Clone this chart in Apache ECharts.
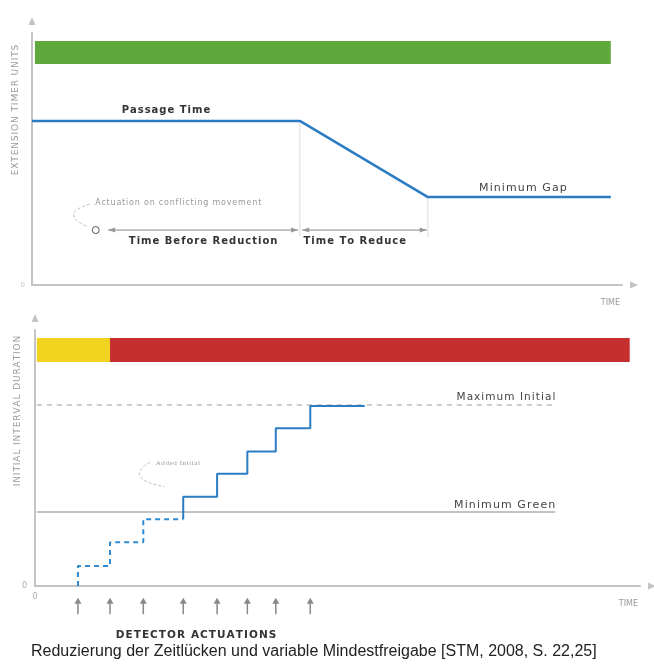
<!DOCTYPE html>
<html><head><meta charset="utf-8">
<script src="https://cdn.jsdelivr.net/npm/echarts@6/dist/echarts.min.js"></script>
<style>html,body{margin:0;padding:0;background:#fff}#c{width:654px;height:664px}</style>
</head><body><div id="c"></div>
<script>
// ---------- top chart: extension timer units ----------
const topTime = [0, 45.4, 67.1, 98.1];
const extensionUnits = [65.1, 65.1, 34.9, 34.9];
const greenBar = [0.5, 98.1, 87.7, 96.8];          // x0, x1, y0, y1
const conflictActuation = 10.8;
const reductionStart = 45.4;
const reductionEnd = 67.1;
const topLabels = ['Passage Time', 'Minimum Gap', 'Time Before Reduction', 'Time To Reduce', 'Actuation on conflicting movement'];

// ---------- bottom chart: initial interval duration ----------
const actuationTimes = [7.1, 12.4, 17.9, 24.5, 30.1, 35.1, 39.8, 45.5];
const initialLevels = [7.8, 17.1, 26.1, 34.9, 43.8, 52.5, 61.6, 70.3];
const stepEndTime = 54.5;
const dashedSteps = 3;
const maximumInitial = 70.7;
const minimumGreen = 28.9;
const thresholdSpan = [0.3, 86];
const yellowBar = [0.3, 12.4, 87.5, 96.9];
const redBar = [12.4, 98.3, 87.5, 96.9];
const bottomLabels = ['Maximum Initial', 'Minimum Green', 'Added Initial'];

const BLUE = '#2b7cc3', AXIS = '#c4c4c4', FONT = 'DejaVu Sans';

// build step polyline from actuations
const stepPts = [[actuationTimes[0], 0]];
for (let i = 0; i < actuationTimes.length; i++) {
  const nx = i + 1 < actuationTimes.length ? actuationTimes[i + 1] : stepEndTime;
  stepPts.push([actuationTimes[i], initialLevels[i]]);
  stepPts.push([nx, initialLevels[i]]);
}
const dashedPts = stepPts.slice(0, 1 + dashedSteps * 2);
const solidPts = stepPts.slice(dashedSteps * 2);

function head(tip, from, len, w) {
  const dx = tip[0] - from[0], dy = tip[1] - from[1];
  const d = Math.hypot(dx, dy) || 1, ux = dx / d, uy = dy / d;
  const bx = tip[0] - ux * len, by = tip[1] - uy * len;
  return [tip, [bx - uy * w, by + ux * w], [bx + uy * w, by - ux * w]];
}
const spaced = s => s.split('').join('\u200A');
function txt(p, s, o) {
  return { type: 'text', style: Object.assign({ text: spaced(s), x: p[0], y: p[1], fontFamily: FONT, fontSize: 10, fill: '#333', align: 'center', verticalAlign: 'middle' }, o || {}) };
}
function ln(a, b, o) {
  return { type: 'line', shape: { x1: a[0], y1: a[1], x2: b[0], y2: b[1] }, style: Object.assign({ stroke: '#888', lineWidth: 1 }, o || {}) };
}

function barSeries(xi, items) {
  return {
    type: 'custom', xAxisIndex: xi, yAxisIndex: xi, silent: true,
    data: items,
    renderItem: (p, api) => {
      const a = api.coord([api.value(0), api.value(3)]);
      const b = api.coord([api.value(1), api.value(2)]);
      return { type: 'rect', shape: { x: a[0], y: a[1], width: b[0] - a[0], height: b[1] - a[1] }, style: { fill: api.visual('color') } };
    }
  };
}

const axisLineStyle = () => ({ show: true, symbol: ['none', 'triangle'], symbolSize: [7, 8], symbolOffset: [0, 12], lineStyle: { color: AXIS, width: 2 } });

const option = {
  animation: false,
  title: [
    { text: spaced('DETECTOR ACTUATIONS'), left: 196, top: 630, padding: 0, textAlign: 'center', textStyle: { fontFamily: FONT, fontSize: 10.5, fontWeight: 'bold', color: '#333' } },
    { text: 'Reduzierung der Zeitlücken und variable Mindestfreigabe [STM, 2008, S. 22,25]', left: 31, top: 644, padding: 0, textStyle: { fontFamily: 'Liberation Sans', fontSize: 16, fontWeight: 'normal', color: '#222' } }
  ],
  grid: [
    { left: 32, right: 32, top: 33, height: 252, outerBoundsMode: 'none', containLabel: false },
    { left: 35, right: 14, top: 330, height: 256, outerBoundsMode: 'none', containLabel: false }
  ],
  xAxis: [
    { gridIndex: 0, type: 'value', min: 0, max: 100, splitLine: { show: false }, axisTick: { show: false }, axisLabel: { show: false },
      axisLine: axisLineStyle(), name: 'TIME', nameLocation: 'end', nameGap: -2,
      nameTextStyle: { align: 'right', verticalAlign: 'top', padding: [14, 0, 0, 0], fontFamily: FONT, fontSize: 8, color: '#999' } },
    { gridIndex: 1, type: 'value', min: 0, max: 100, interval: 100, splitLine: { show: false }, axisTick: { show: false },
      axisLabel: { formatter: v => v === 0 ? '0' : '', color: '#aaa', fontSize: 8, margin: 7, fontFamily: FONT },
      axisLine: axisLineStyle(), name: 'TIME', nameLocation: 'end', nameGap: -2,
      nameTextStyle: { align: 'right', verticalAlign: 'top', padding: [14, 0, 0, 0], fontFamily: FONT, fontSize: 8, color: '#999' } }
  ],
  yAxis: [
    { gridIndex: 0, type: 'value', min: 0, max: 100, interval: 100, splitLine: { show: false }, axisTick: { show: false },
      axisLabel: { formatter: v => v === 0 ? '0' : '', color: '#ccc', fontSize: 7, margin: 7, fontFamily: FONT },
      axisLine: axisLineStyle(), name: spaced('EXTENSION TIMER UNITS'), nameLocation: 'middle', nameGap: 12, nameMoveOverlap: false,
      nameTextStyle: { fontFamily: FONT, fontSize: 9, color: '#999', padding: [0, 0, 0, 98] } },
    { gridIndex: 1, type: 'value', min: 0, max: 100, interval: 100, splitLine: { show: false }, axisTick: { show: false },
      axisLabel: { formatter: v => v === 0 ? '0' : '', color: '#aaa', fontSize: 8, margin: 8, fontFamily: FONT },
      axisLine: axisLineStyle(), name: spaced('INITIAL INTERVAL DURATION'), nameLocation: 'middle', nameGap: 13, nameMoveOverlap: false,
      nameTextStyle: { fontFamily: FONT, fontSize: 9, color: '#999', padding: [0, 0, 0, 94] } }
  ],
  series: [
    barSeries(0, [{ value: greenBar, itemStyle: { color: '#5fa83c' } }]),
    { type: 'line', xAxisIndex: 0, yAxisIndex: 0, silent: true, symbol: 'none',
      data: topTime.map((t, i) => [t, extensionUnits[i]]), lineStyle: { color: BLUE, width: 2.5 } },
    { type: 'custom', xAxisIndex: 0, yAxisIndex: 0, silent: true, clip: false, data: [[0]],
      renderItem: (p, api) => {
        const c = v => api.coord(v);
        const rowY = 21.8;
        const ch = [];
        ch.push(ln(c([reductionStart, extensionUnits[1]]), c([reductionStart, 19.5]), { stroke: '#d0d0d0', lineWidth: 0.8 }));
        ch.push(ln(c([reductionEnd, extensionUnits[2]]), c([reductionEnd, 19]), { stroke: '#d0d0d0', lineWidth: 0.8 }));
        const a1 = c([conflictActuation + 2.1, rowY]), a2 = c([reductionStart - 0.3, rowY]);
        const b1 = c([reductionStart + 0.4, rowY]), b2 = c([reductionEnd - 0.2, rowY]);
        [[a1, a2], [b1, b2]].forEach(([s, e]) => {
          ch.push(ln(s, e, { stroke: '#888', lineWidth: 1 }));
          ch.push({ type: 'polygon', shape: { points: head(s, e, 7, 2.5) }, style: { fill: '#999' } });
          ch.push({ type: 'polygon', shape: { points: head(e, s, 7, 2.5) }, style: { fill: '#999' } });
        });
        const cc = c([conflictActuation, rowY]);
        ch.push({ type: 'circle', shape: { cx: cc[0], cy: cc[1], r: 3.5 }, style: { fill: '#fff', stroke: '#555', lineWidth: 1 } });
        const s0 = c([9.8, 32.1]), cp = c([4.6, 28.5]), e0 = c([9.3, 23.2]);
        ch.push({ type: 'bezierCurve', shape: { x1: s0[0], y1: s0[1], cpx1: cp[0], cpy1: cp[1], x2: e0[0], y2: e0[1] }, style: { stroke: '#bbb', fill: null, lineWidth: 1, lineDash: [3, 2] } });
        ch.push(txt(c([22.7, 69.2]), topLabels[0], { fontWeight: 'bold', fontSize: 10, fill: '#333' }));
        ch.push(txt(c([83.2, 38.6]), topLabels[1], { fontSize: 11, fill: '#444' }));
        ch.push(txt(c([29.0, 17.3]), topLabels[2], { fontWeight: 'bold', fontSize: 10, fill: '#333' }));
        ch.push(txt(c([54.7, 17.3]), topLabels[3], { fontWeight: 'bold', fontSize: 10, fill: '#333' }));
        ch.push(txt(c([10.7, 32.5]), topLabels[4], { fontSize: 8, fill: '#999', align: 'left' }));
        return { type: 'group', children: ch };
      } },

    barSeries(1, [{ value: yellowBar, itemStyle: { color: '#f1d21e' } }, { value: redBar, itemStyle: { color: '#c5302e' } }]),
    { type: 'line', xAxisIndex: 1, yAxisIndex: 1, silent: true, symbol: 'none',
      data: thresholdSpan.map(x => [x, maximumInitial]), lineStyle: { color: '#999', width: 1.2, type: [5, 5] } },
    { type: 'line', xAxisIndex: 1, yAxisIndex: 1, silent: true, symbol: 'none',
      data: thresholdSpan.map(x => [x, minimumGreen]), lineStyle: { color: '#888', width: 1.2 } },
    { type: 'line', xAxisIndex: 1, yAxisIndex: 1, silent: true, symbol: 'none',
      data: dashedPts, lineStyle: { color: '#2f8ad0', width: 2, type: [5, 4] } },
    { type: 'line', xAxisIndex: 1, yAxisIndex: 1, silent: true, symbol: 'none',
      data: solidPts, lineStyle: { color: BLUE, width: 2 } },
    { type: 'custom', xAxisIndex: 1, yAxisIndex: 1, silent: true, clip: false, data: [[0]],
      renderItem: (p, api) => {
        const c = v => api.coord(v);
        const ch = [];
        actuationTimes.forEach(t => {
          const top = c([t, -4.6]), bot = c([t, -11]);
          ch.push(ln([top[0], top[1] + 4], bot, { stroke: '#888', lineWidth: 1.5 }));
          ch.push({ type: 'polygon', shape: { points: head(top, bot, 6, 3.5) }, style: { fill: '#888' } });
        });
        ch.push(txt(c([thresholdSpan[1], maximumInitial + 2.9]), bottomLabels[0], { fontSize: 10.5, fill: '#444', align: 'right' }));
        ch.push(txt(c([thresholdSpan[1], minimumGreen + 2.8]), bottomLabels[1], { fontSize: 11, fill: '#444', align: 'right' }));
        ch.push(txt(c([23.6, 47.8]), bottomLabels[2], { fontSize: 7, fill: '#999', fontFamily: 'Liberation Serif' }));
        const s0 = c([19.0, 48.4]), cp = c([14.5, 42]), e0 = c([21.4, 38.8]);
        ch.push({ type: 'bezierCurve', shape: { x1: s0[0], y1: s0[1], cpx1: cp[0], cpy1: cp[1], x2: e0[0], y2: e0[1] }, style: { stroke: '#bbb', fill: null, lineWidth: 1, lineDash: [3, 2] } });
        return { type: 'group', children: ch };
      } }
  ]
};
echarts.init(document.getElementById('c')).setOption(option);
</script></body></html>
